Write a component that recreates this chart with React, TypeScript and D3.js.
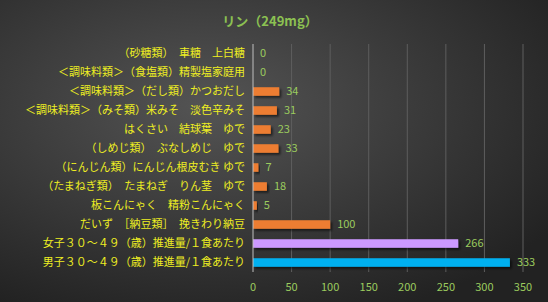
import React, { useEffect, useRef } from 'react';
import * as d3 from 'd3';

const categories = [
  '（砂糖類）　車糖　上白糖',
  '＜調味料類＞（食塩類）精製塩家庭用',
  '＜調味料類＞（だし類）かつおだし',
  '＜調味料類＞（みそ類）米みそ　淡色辛みそ',
  'はくさい　結球葉　ゆで',
  '（しめじ類）　ぶなしめじ　ゆで',
  '（にんじん類）にんじん根皮むき ゆで',
  '（たまねぎ類）　たまねぎ　りん茎　ゆで',
  '板こんにゃく　精粉こんにゃく',
  'だいず　［納豆類］　挽きわり納豆',
  '女子３０～４９（歳）推進量/１食あたり',
  '男子３０～４９（歳）推進量/１食あたり',
];
const values = [0, 0, 34, 31, 23, 33, 7, 18, 5, 100, 266, 333];
const barColors = [
  '#ED7D31', '#ED7D31', '#ED7D31', '#ED7D31', '#ED7D31', '#ED7D31',
  '#ED7D31', '#ED7D31', '#ED7D31', '#ED7D31', '#CC99FF', '#00B0F0',
];
const xTicks = [0, 50, 100, 150, 200, 250, 300, 350];
const title = 'リン（249mg）';

const W = 548;
const H = 302;

const App: React.FC = () => {
  const svgRef = useRef<SVGSVGElement>(null);

  useEffect(() => {
    if (!svgRef.current) return;
    const svg = d3.select(svgRef.current);
    svg.selectAll('*').remove();

    const plot = { left: 253, right: 523, top: 44, bottom: 272 };
    const font = '"Noto Sans CJK JP", "Noto Sans", sans-serif';

    const defs = svg.append('defs');
    const bg = defs.append('radialGradient')
      .attr('id', 'bg')
      .attr('cx', '38%').attr('cy', '35%').attr('r', '75%');
    bg.append('stop').attr('offset', '0%').attr('stop-color', '#545454');
    bg.append('stop').attr('offset', '100%').attr('stop-color', '#222222');

    const shadow = defs.append('filter').attr('id', 'shadow')
      .attr('x', '-10%').attr('y', '-30%').attr('width', '130%').attr('height', '180%');
    shadow.append('feDropShadow')
      .attr('dx', 2).attr('dy', 2).attr('stdDeviation', 1)
      .attr('flood-color', '#000').attr('flood-opacity', 0.55);

    svg.append('rect').attr('width', W).attr('height', H).attr('fill', 'url(#bg)');

    const x = d3.scaleLinear().domain([0, 350]).range([plot.left, plot.right]);
    const y = d3.scaleBand<string>()
      .domain(categories)
      .range([plot.top, plot.bottom])
      .paddingInner(0.55)
      .paddingOuter(0.275);

    // gridlines
    svg.append('g').selectAll('line')
      .data(xTicks.slice(1))
      .join('line')
      .attr('x1', d => x(d)).attr('x2', d => x(d))
      .attr('y1', plot.top).attr('y2', plot.bottom)
      .attr('stroke', '#5e5e5e').attr('stroke-width', 1);

    // bars
    svg.append('g').selectAll('rect')
      .data(values)
      .join('rect')
      .attr('x', x(0))
      .attr('y', (_, i) => y(categories[i]) as number)
      .attr('width', d => x(d) - x(0))
      .attr('height', y.bandwidth())
      .attr('fill', (_, i) => barColors[i])
      .attr('filter', 'url(#shadow)');

    // axis line
    svg.append('line')
      .attr('x1', x(0)).attr('x2', x(0))
      .attr('y1', plot.top).attr('y2', plot.bottom)
      .attr('stroke', '#bfbfbf').attr('stroke-width', 1);

    // value labels
    svg.append('g').selectAll('text')
      .data(values)
      .join('text')
      .attr('x', d => x(d) + 7)
      .attr('y', (_, i) => (y(categories[i]) as number) + y.bandwidth() / 2)
      .attr('dy', '0.36em')
      .attr('fill', '#9BCB5E')
      .style('font-family', font)
      .style('font-size', '11px')
      .text(d => d);

    // category labels
    svg.append('g').selectAll('text')
      .data(categories)
      .join('text')
      .attr('x', plot.left - 8)
      .attr('y', d => (y(d) as number) + y.bandwidth() / 2)
      .attr('dy', '0.36em')
      .attr('text-anchor', 'end')
      .attr('fill', '#EEEE22')
      .style('font-family', font)
      .style('font-size', '11px')
      .text(d => d);

    // x tick labels
    svg.append('g').selectAll('text')
      .data(xTicks)
      .join('text')
      .attr('x', d => x(d))
      .attr('y', 287)
      .attr('dy', '0.36em')
      .attr('text-anchor', 'middle')
      .attr('fill', '#9BCB5E')
      .style('font-family', font)
      .style('font-size', '11px')
      .text(d => d);

    // title
    svg.append('text')
      .attr('x', 270)
      .attr('y', 21)
      .attr('dy', '0.36em')
      .attr('text-anchor', 'middle')
      .attr('fill', '#8CC152')
      .style('font-family', font)
      .style('font-size', '13px')
      .style('font-weight', 'bold')
      .text(title);
  }, []);

  return (
    <svg
      ref={svgRef}
      width={W}
      height={H}
      style={{ position: 'absolute', left: 0, top: 0, display: 'block' }}
    />
  );
};

export default App;
